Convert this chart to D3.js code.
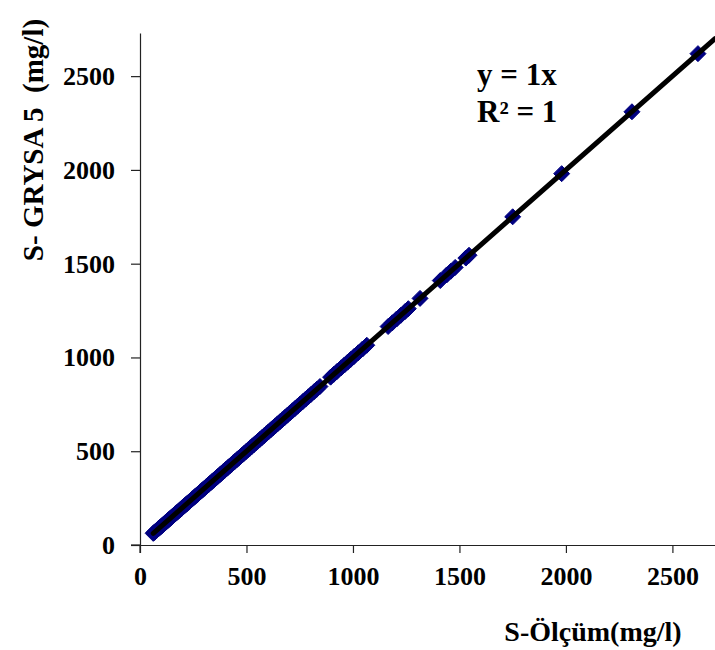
<!DOCTYPE html>
<html>
<head>
<meta charset="utf-8">
<script src="https://cdn.jsdelivr.net/npm/d3@7"></script>
<style>
  html, body { margin: 0; padding: 0; background: #fff; }
  svg { display: block; }
  svg text { font-family: "Liberation Serif", "Times New Roman", Times, "DejaVu Serif", serif !important; font-weight: bold; fill: #000; }
</style>
</head>
<body>
<svg id="chart" width="715" height="650"></svg>
<script>
// S-Ölçüm (measured) values
const measured = [62, 65, 68, 72, 75, 78, 82, 86, 90, 95, 100, 104, 108, 113, 118, 122, 127, 131, 136, 140,
  145, 150, 155, 160, 166, 171, 176, 182, 188, 193, 199, 205, 210, 216, 222, 228, 234, 240, 246, 252,
  258, 265, 271, 277, 284, 290, 297, 303, 310, 317, 324, 331, 338, 345, 352, 360, 367, 375, 382, 390,
  398, 405, 413, 421, 430, 438, 446, 455, 463, 472, 480, 489, 498, 507, 516, 525, 535, 544, 554, 563,
  573, 583, 593, 603, 614, 624, 635, 646, 657, 668, 680, 692, 704, 716, 728, 740, 752, 765, 778, 790,
  803, 817, 830, 845, 895, 910, 925, 945, 960, 975, 990, 1005, 1025, 1045, 1065, 1165, 1185, 1205, 1225,
  1245, 1260, 1315, 1410, 1440, 1460, 1480, 1530, 1545, 1750, 1980, 2310, 2620];
// S- GRYSA 5 (model) values
const modelled = [62, 65, 68, 72, 75, 78, 82, 86, 90, 95, 100, 104, 108, 113, 118, 122, 127, 131, 136, 140,
  145, 150, 155, 160, 166, 171, 176, 182, 188, 193, 199, 205, 210, 216, 222, 228, 234, 240, 246, 252,
  258, 265, 271, 277, 284, 290, 297, 303, 310, 317, 324, 331, 338, 345, 352, 360, 367, 375, 382, 390,
  398, 405, 413, 421, 430, 438, 446, 455, 463, 472, 480, 489, 498, 507, 516, 525, 535, 544, 554, 563,
  573, 583, 593, 603, 614, 624, 635, 646, 657, 668, 680, 692, 704, 716, 728, 740, 752, 765, 778, 790,
  803, 817, 830, 845, 895, 910, 925, 945, 960, 975, 990, 1005, 1025, 1045, 1065, 1165, 1185, 1205, 1225,
  1245, 1260, 1315, 1410, 1440, 1460, 1480, 1530, 1545, 1750, 1980, 2310, 2620];
const xTicks = [0, 500, 1000, 1500, 2000, 2500];
const yTicks = [0, 500, 1000, 1500, 2000, 2500];
const trendSlope = 1;
const trendIntercept = 0;
const trendXEnd = 2700;
const equationLines = ["y = 1x", "R\u00B2 = 1"];
const xTitle = "S-Ölçüm(mg/l)";
const yTitle = "S- GRYSA 5\u00A0 (mg/l)";

const svg = d3.select("#chart");
const x = d3.scaleLinear().domain([0, 2700]).range([140, 715]);
const y = d3.scaleLinear().domain([0, 2730]).range([545, 33]);

// axes
const fmt = d3.format("d");
const xAxis = d3.axisBottom(x).tickValues(xTicks).tickFormat(fmt).tickSize(8).tickPadding(14).tickSizeOuter(0);
const yAxis = d3.axisLeft(y).tickValues(yTicks).tickFormat(fmt).tickSize(9).tickPadding(16).tickSizeOuter(0);

const gx = svg.append("g").attr("transform", "translate(0,545)").call(xAxis);
const gy = svg.append("g").attr("transform", "translate(140,0)").call(yAxis);
[gx, gy].forEach(g => {
  g.attr("font-family", null).attr("font-size", null);
  g.select(".domain").attr("stroke", "#222").attr("stroke-width", 1.2);
  g.selectAll(".tick line").attr("stroke", "#222").attr("stroke-width", 1.2);
  g.selectAll(".tick text").style("font-size", "26px").attr("fill", "#000");
});
// extend x axis line left to y-tick length, y axis line down to x-tick length
svg.append("line").attr("x1", 131).attr("x2", 140).attr("y1", 545).attr("y2", 545)
  .attr("stroke", "#222").attr("stroke-width", 1.2);
svg.append("line").attr("x1", 140).attr("x2", 140).attr("y1", 545).attr("y2", 553)
  .attr("stroke", "#222").attr("stroke-width", 1.2);

// markers
const pts = measured.map((v, i) => [v, modelled[i]]);
svg.append("g").selectAll("path").data(pts).join("path")
  .attr("transform", d => `translate(${x(d[0])},${y(d[1])})`)
  .attr("d", "M0,-8L8,0L0,8L-8,0Z")
  .attr("fill", "#000080").attr("stroke", "#000080").attr("stroke-width", 1);

// trendline
const xMin = d3.min(measured);
svg.append("line")
  .attr("x1", x(xMin)).attr("y1", y(trendSlope * xMin + trendIntercept))
  .attr("x2", x(trendXEnd)).attr("y2", y(trendSlope * trendXEnd + trendIntercept))
  .attr("stroke", "#000").attr("stroke-width", 5).attr("stroke-linecap", "round");

// equation
svg.append("g").selectAll("text").data(equationLines).join("text")
  .attr("x", 477).attr("y", (d, i) => 85 + i * 37)
  .style("font-size", "31px").text(d => d);

// titles
svg.append("text").attr("x", 593).attr("y", 641).attr("text-anchor", "middle")
  .style("font-size", "28px").text(xTitle);
svg.append("text").attr("transform", "translate(43,140) rotate(-90)").attr("text-anchor", "middle")
  .style("font-size", "29px").text(yTitle);
</script>
</body>
</html>
